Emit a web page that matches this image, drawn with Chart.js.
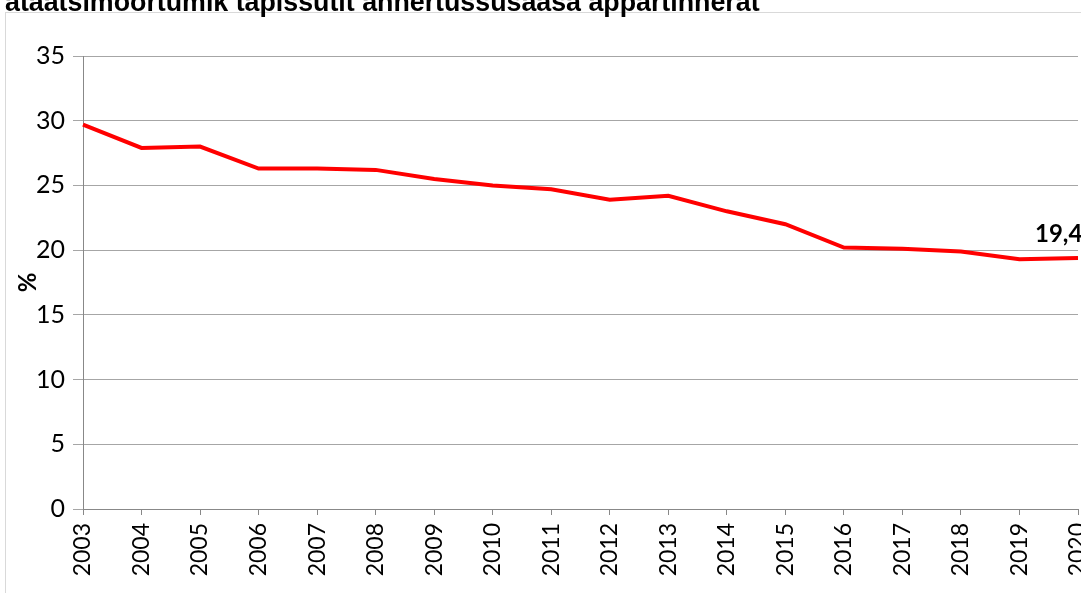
<!DOCTYPE html>
<html>
<head>
<meta charset="utf-8">
<script src="https://cdn.jsdelivr.net/npm/chart.js@4/dist/chart.umd.min.js"></script>
<style>
  html, body { margin: 0; padding: 0; background: #fff; overflow: hidden; }
</style>
</head>
<body>
<canvas id="chart" width="1081" height="593"></canvas>
<script>
// data
const years = ['2003', '2004', '2005', '2006', '2007', '2008', '2009', '2010', '2011',
               '2012', '2013', '2014', '2015', '2016', '2017', '2018', '2019', '2020']
const shares = [29.7, 27.9, 28.0, 26.3, 26.3, 26.2, 25.5, 25.0, 24.7,
                23.9, 24.2, 23.0, 22.0, 20.2, 20.1, 19.9, 19.3, 19.4]
const yTicks = [0, 5, 10, 15, 20, 25, 30, 35]
const title = 'ataatsimoortumik tapissutit annertussusaasa appartinnerat'
const yTitle = '%'
const lastLabel = '19,4'

const tickFont = 'Lato, "Open Sans", sans-serif'

// frame, cut-off title and the label on the last point
const extras = {
    id: 'extras',
    beforeDraw(chart) {
        const ctx = chart.ctx
        ctx.save()
        ctx.fillStyle = '#fff'
        ctx.fillRect(0, 0, chart.width, chart.height)
        ctx.strokeStyle = '#d9d9d9'
        ctx.lineWidth = 1
        ctx.strokeRect(5.5, 12.5, chart.width + 20, chart.height + 20)
        ctx.font = 'bold 100px "Liberation Sans", Arial, sans-serif'
        var size = 100 * 755 / ctx.measureText(title).width
        ctx.font = 'bold ' + size + 'px "Liberation Sans", Arial, sans-serif'
        ctx.fillStyle = '#000'
        ctx.textBaseline = 'alphabetic'
        ctx.fillText(title, 5, 11)
        ctx.restore()
    },
    afterDatasetsDraw(chart) {
        const ctx = chart.ctx
        const meta = chart.getDatasetMeta(0)
        const pt = meta.data[meta.data.length - 1]
        ctx.save()
        ctx.font = 'bold 24px ' + tickFont
        ctx.fillStyle = '#000'
        ctx.textAlign = 'left'
        ctx.textBaseline = 'alphabetic'
        ctx.fillText(lastLabel, pt.x - 43, pt.y - 16)
        ctx.restore()
    }
}

new Chart(document.getElementById('chart').getContext('2d'), {
    type: 'line',
    data: {
        labels: years,
        datasets: [{
            data: shares,
            borderColor: '#ff0000',
            borderWidth: 4,
            pointRadius: 0,
            tension: 0,
            fill: false
        }]
    },
    options: {
        responsive: false,
        animation: false,
        layout: { padding: { top: 56, right: 3, left: 0, bottom: 0 } },
        plugins: {
            legend: { display: false },
            tooltip: { enabled: false }
        },
        scales: {
            x: {
                offset: false,
                grid: {
                    drawOnChartArea: false,
                    color: '#888',
                    tickLength: 6
                },
                border: { color: '#888', width: 1 },
                ticks: {
                    color: '#000',
                    font: { family: tickFont, size: 23 },
                    minRotation: 90,
                    maxRotation: 90,
                    padding: 8,
                    autoSkip: false
                },
                afterFit(scale) {
                    scale.height = 84
                    scale.paddingLeft = 0
                    scale.paddingRight = 0
                }
            },
            y: {
                min: 0,
                max: 35,
                afterBuildTicks(scale) {
                    scale.ticks = yTicks.map(v => ({ value: v }))
                },
                grid: {
                    color: '#a6a6a6',
                    tickLength: 10
                },
                border: { color: '#888', width: 1 },
                ticks: {
                    color: '#000',
                    font: { family: tickFont, size: 25 },
                    padding: 8
                },
                title: {
                    display: true,
                    text: yTitle,
                    color: '#000',
                    font: { family: tickFont, size: 24, weight: 'bold' },
                    padding: { top: 14, bottom: 0 }
                },
                afterFit(scale) {
                    scale.width = 83
                }
            }
        }
    },
    plugins: [extras]
})
</script>
</body>
</html>
